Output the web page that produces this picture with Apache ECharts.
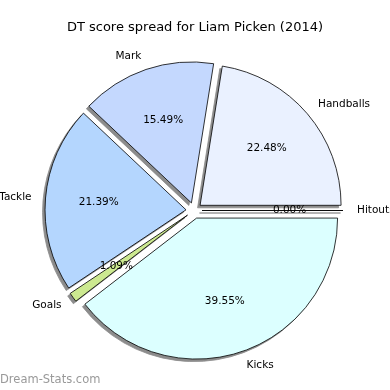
<!DOCTYPE html>
<html><head><meta charset="utf-8">
<script src="https://cdn.jsdelivr.net/npm/echarts@6/dist/echarts.min.js"></script>
<style>html,body{margin:0;padding:0;background:#fff}#c{width:390px;height:390px}</style>
</head><body><div id="c"></div>
<script>
var categories = ['Handballs', 'Mark', 'Tackle', 'Goals', 'Kicks', 'Hitouts'];
var percentages = [22.48, 15.49, 21.39, 1.09, 39.55, 0.00];
var colors = ['#eaf1ff', '#c4d8fe', '#b4d6fe', '#cce990', '#dcffff', '#e0e0e0'];
var titleText = 'DT score spread for Liam Picken (2014)';
var watermark = 'Dream-Stats.com';

var R = 141, CX = 194, CY = 210.5, OFF = 8, SH = 2.5;
var font = 'DejaVu Sans';
var chart = echarts.init(document.getElementById('c'), null, {renderer: 'canvas'});

function mk(extra) {
  return categories.map(function (c, i) {
    var d = {name: c, value: percentages[i], selected: true};
    if (extra) d.itemStyle = extra(i);
    return d;
  });
}

chart.setOption({
  animation: false,
  backgroundColor: '#fff',
  title: {
    text: titleText, left: 'center', top: 16,
    textStyle: {fontFamily: font, fontSize: 13, fontWeight: 'normal', color: '#000'}
  },
  graphic: [{
    type: 'text', left: 0, top: 374,
    style: {text: watermark, fontFamily: font, fontSize: 11.5, fontWeight: 'normal', fill: '#999'}
  }],
  series: [{
    type: 'pie', silent: true,
    center: [CX - SH, CY + SH], radius: [0, R],
    startAngle: 0, clockwise: false,
    selectedMode: 'multiple', selectedOffset: OFF,
    itemStyle: {color: '#8c8c8c', borderColor: '#8c8c8c', borderWidth: 0.8},
    label: {show: false}, labelLine: {show: false},
    emphasis: {disabled: true},
    select: {itemStyle: {color: '#8c8c8c', borderColor: '#8c8c8c', borderWidth: 0.8}},
    data: mk()
  }, {
    type: 'pie',
    center: [CX, CY], radius: [0, R],
    startAngle: 0, clockwise: false,
    selectedMode: 'multiple', selectedOffset: OFF,
    avoidLabelOverlap: false,
    itemStyle: {borderColor: '#000', borderWidth: 0.8},
    label: {show: true, position: 'outside', formatter: '{b}', fontFamily: font, fontSize: 10.5, color: '#000', distanceToLabelLine: 0},
    labelLine: {show: false, length: 14, length2: 0},
    emphasis: {disabled: true},
    select: {itemStyle: {borderColor: '#000', borderWidth: 0.8}},
    data: mk(function (i) { return {color: colors[i]}; })
  }, {
    type: 'pie', silent: true,
    center: [CX, CY], radius: [0, R * 1.2],
    startAngle: 0, clockwise: false,
    selectedMode: 'multiple', selectedOffset: OFF,
    itemStyle: {color: 'rgba(0,0,0,0)', borderWidth: 0},
    label: {show: true, position: 'inside', fontFamily: font, fontSize: 10.5, color: '#000',
      formatter: function (p) { return p.value.toFixed(2) + '%'; }},
    labelLine: {show: false},
    emphasis: {disabled: true},
    select: {itemStyle: {color: 'rgba(0,0,0,0)', borderWidth: 0}},
    data: mk()
  }]
});
</script></body></html>
